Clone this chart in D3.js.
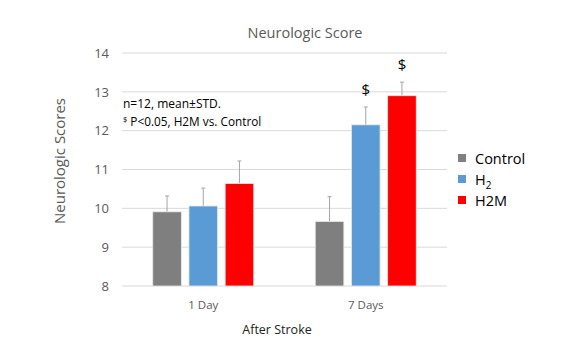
<!DOCTYPE html>
<html><head><meta charset="utf-8">
<script src="https://cdn.jsdelivr.net/npm/d3@7"></script>
<style>body{margin:0;background:#fff}svg{display:block}text{font-family:"Open Sans","Liberation Sans",sans-serif}</style>
</head><body><svg id="c" width="564" height="356"></svg>
<script>
const categories = ["1 Day", "7 Days"];
const seriesNames = ["Control", "H2", "H2M"];
const seriesColors = ["#7f7f7f", "#5b9bd5", "#ff0000"];
const control = [9.91, 9.66];
const h2 = [10.06, 12.15];
const h2m = [10.64, 12.90];
const controlErr = [0.41, 0.64];
const h2Err = [0.46, 0.46];
const h2mErr = [0.58, 0.35];
const sigMarks = [["", ""], ["", "$"], ["", "$"]];
const yTicks = [8, 9, 10, 11, 12, 13, 14];

const values = [control, h2, h2m];
const errs = [controlErr, h2Err, h2mErr];
const FONT = "'Open Sans','Liberation Sans',sans-serif";

const svg = d3.select("#c");
const pLeft = 122, pRight = 447, pTop = 53, pBottom = 286;
const x = d3.scaleBand().domain(categories).range([pLeft, pRight]).paddingInner(0).paddingOuter(0);
const y = d3.scaleLinear().domain([8, 14]).range([pBottom, pTop]);
const inner = d3.scaleBand().domain(seriesNames).range([0, 101]).paddingInner(0.21);

svg.append("g").selectAll("line").data(yTicks).join("line")
  .attr("x1", pLeft).attr("x2", pRight)
  .attr("y1", d => y(d)).attr("y2", d => y(d))
  .attr("stroke", "#d9d9d9").attr("stroke-width", 1);

const yAxis = d3.axisLeft(y).tickValues(yTicks).tickFormat(d3.format("d")).tickSize(0).tickPadding(13);
const ya = svg.append("g").attr("transform", `translate(${pLeft},0)`).call(yAxis);
ya.select(".domain").remove();
ya.selectAll("text").attr("font-size", 13).attr("fill", "#595959").attr("font-family", FONT);

const xAxis = d3.axisBottom(x).tickSize(0).tickPadding(15);
const xa = svg.append("g").attr("transform", `translate(0,${pBottom})`).call(xAxis);
xa.select(".domain").remove();
xa.selectAll("text").attr("font-size", 11.5).attr("fill", "#595959").attr("font-family", FONT);

const groupOffset = (x.bandwidth() - 101) / 2;
seriesNames.forEach((s, si) => {
  const g = svg.append("g");
  categories.forEach((c, ci) => {
    const bx = x(c) + groupOffset + inner(s);
    const v = values[si][ci], e = errs[si][ci];
    const cx = bx + inner.bandwidth() / 2;
    g.append("line").attr("x1", cx).attr("x2", cx).attr("y1", y(v)).attr("y2", y(v + e))
      .attr("stroke", "#a5a5a5").attr("stroke-width", 1);
    g.append("line").attr("x1", cx - 2).attr("x2", cx + 2).attr("y1", y(v + e)).attr("y2", y(v + e))
      .attr("stroke", "#a5a5a5").attr("stroke-width", 1);
    g.append("rect").attr("x", bx).attr("y", y(v)).attr("width", inner.bandwidth())
      .attr("height", y(8) - y(v)).attr("fill", seriesColors[si])
      .attr("stroke", "#e8e8e8").attr("stroke-width", 0.8);
    const m = sigMarks[si][ci];
    if (m) {
      g.append("text").attr("x", cx).attr("y", y(v + e) - 12).attr("text-anchor", "middle")
        .attr("font-size", 15).attr("fill", "#000").text(m);
    }
  });
});

svg.append("text").attr("x", 305).attr("y", 38).attr("text-anchor", "middle")
  .attr("font-size", 14.5).attr("fill", "#595959").text("Neurologic Score");
svg.append("text").attr("transform", "translate(65,161) rotate(-90)").attr("text-anchor", "middle")
  .attr("font-size", 15).attr("fill", "#595959").text("Neurologic Scores");
svg.append("text").attr("x", 277).attr("y", 334).attr("text-anchor", "middle")
  .attr("font-size", 12.5).attr("fill", "#222").text("After Stroke");

svg.append("text").attr("x", 123).attr("y", 108).attr("font-size", 12).attr("fill", "#000").text("n=12, mean±STD.");
const a2 = svg.append("text").attr("x", 123).attr("y", 126).attr("font-size", 11.8).attr("fill", "#000");
a2.append("tspan").attr("font-size", 7.5).attr("dy", -4).text("$");
a2.append("tspan").attr("dy", 4).text(" P<0.05, H2M vs. Control");

const lg = svg.append("g");
seriesNames.forEach((s, i) => {
  const ly = 158 + i * 21;
  lg.append("rect").attr("x", 458).attr("y", ly - 4).attr("width", 8).attr("height", 8).attr("fill", seriesColors[i]);
  const t = lg.append("text").attr("x", 475).attr("y", ly + 5.5).attr("font-size", 14.5).attr("fill", "#000");
  if (s === "H2") {
    t.append("tspan").text("H");
    t.append("tspan").attr("font-size", 10).attr("dy", 4).text("2");
  } else t.text(s);
});
</script></body></html>
